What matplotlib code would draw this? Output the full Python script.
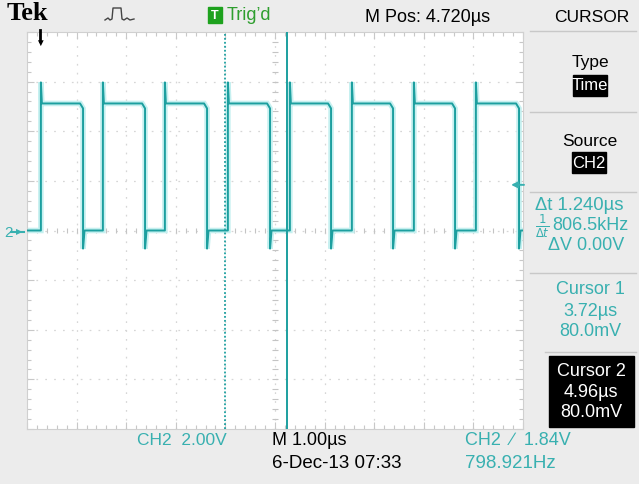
import numpy as np
import matplotlib
matplotlib.use('Agg')
import matplotlib.pyplot as plt
from matplotlib.patches import Rectangle
from matplotlib.lines import Line2D

plt.rcParams['font.family'] = ['Liberation Sans', 'DejaVu Sans']
plt.rcParams['mathtext.fontset'] = 'dejavusans'

# screen settings
m_pos_us = 4.720          # horizontal centre of the screen
time_per_div_us = 1.00
volt_per_div = 2.00
trig_level_v = 1.84

# pulse train (CH2)
rise_us = [0.00, 1.25, 2.50, 3.77, 5.02, 6.27, 7.52, 8.77]
fall_us = [0.85, 2.10, 3.35, 4.62, 5.85, 7.10, 8.35, 9.64]
low_v = 0.0
high_v = 5.12
overshoot_v = 5.97
undershoot_v = -0.73

cursor1_us = 3.72
cursor2_us = 4.96

TRACE = '#1c9f9f'
GLOW = '#c6f0f0'
CYAN_TXT = '#38b0b0'
BG = '#ececec'

W, H = 639, 485
fig = plt.figure(figsize=(W / 100, H / 100), dpi=100, facecolor=BG)


def px(x, y):
    # pixel position (from top-left) -> figure fraction
    return x / W, 1 - y / H


def txt(x, y, s, color='black', size=12.5, ha='left', **kw):
    fx, fy = px(x, y)
    fig.text(fx, fy, s, color=color, fontsize=size, ha=ha, va='center', **kw)


def sep(y, x0=530, x1=636):
    fig.add_artist(Line2D([x0 / W, x1 / W], [1 - y / H] * 2, color='#c8c8c8', lw=1))


def box(x0, y0, x1, y1, color='black'):
    fig.add_artist(Rectangle((x0 / W, 1 - y1 / H), (x1 - x0) / W, (y1 - y0) / H,
                             color=color, transform=fig.transFigure, zorder=2))


# ---- graticule ----
ax = fig.add_axes([27 / W, 55 / H, 496 / W, 397 / H])
ax.set_facecolor('white')
x0 = m_pos_us - 5 * time_per_div_us
x1 = m_pos_us + 5 * time_per_div_us
ax.set_xlim(x0, x1)
ax.set_ylim(-4 * volt_per_div, 4 * volt_per_div)

xdiv = x0 + np.arange(11) * time_per_div_us
ydiv = np.arange(-4, 5) * volt_per_div
for xv in xdiv[1:-1]:
    ax.axvline(xv, color='#d6d6d6', lw=0.9, ls=(0, (1.4, 5.7)), zorder=1)
for yv in ydiv[1:-1]:
    ax.axhline(yv, color='#d6d6d6', lw=0.9, ls=(0, (1.4, 5.7)), zorder=1)

ax.set_xticks(xdiv)
ax.set_xticks(x0 + np.arange(51) * time_per_div_us / 5, minor=True)
ax.set_yticks(ydiv)
ax.set_yticks(np.arange(-20, 21) * volt_per_div / 5, minor=True)
ax.tick_params(which='both', direction='in', top=True, right=True,
               labelbottom=False, labelleft=False, color='#c8c8c8')
ax.tick_params(which='major', length=5, width=0.8)
ax.tick_params(which='minor', length=3, width=0.8)
for s in ax.spines.values():
    s.set_color('#d0d0d0')
    s.set_linewidth(0.8)

# centre-line ticks
xc = x0 + np.arange(51) * time_per_div_us / 5
yc = np.arange(-20, 21) * volt_per_div / 5
ax.vlines(xc, -0.12, 0.12, color='#c4c4c4', lw=0.8, zorder=1)
ax.hlines(yc, m_pos_us - 0.06, m_pos_us + 0.06, color='#c4c4c4', lw=0.8, zorder=1)

# ---- trace ----
tx = [x0]
ty = [low_v]
for r, f in zip(rise_us, fall_us):
    tx += [r, r, r + 0.02, f - 0.06, f, f, f + 0.03]
    ty += [low_v, overshoot_v, high_v, high_v, high_v - 0.2, undershoot_v, low_v]
tx.append(x1)
ty.append(low_v)
ax.plot(tx, ty, color=GLOW, lw=4.0, zorder=2, solid_joinstyle='miter')
ax.plot(tx, ty, color=TRACE, lw=1.4, zorder=3)

# ---- cursors ----
ax.axvline(cursor1_us, color=TRACE, lw=1.3, ls=(0, (1, 1.2)), zorder=4)
ax.axvline(cursor2_us, color=TRACE, lw=1.4, zorder=4)

# ---- markers around the graticule ----
txt(4, 233, '2', color=CYAN_TXT, size=11)
fig.add_artist(Line2D([11 / W, 24 / W], [1 - 233 / H] * 2, color=CYAN_TXT, lw=1.5))
fig.text(*px(19, 233), '\u25b6', color=CYAN_TXT, fontsize=6, ha='center', va='center')
ax.annotate('', xy=(x1 - 0.24, trig_level_v), xytext=(x1 + 0.02, trig_level_v),
            arrowprops=dict(arrowstyle='-|>', color=CYAN_TXT, lw=1.4, mutation_scale=9,
                            shrinkA=0, shrinkB=0),
            annotation_clip=False, zorder=5)
fig.add_artist(Line2D([40 / W] * 2, [1 - 31 / H, 1 - 42 / H], color='black', lw=2))
fig.text(*px(40, 43), '\u25bc', color='black', fontsize=7, ha='center', va='center')

# ---- top bar ----
txt(7, 14, 'Tek', size=19, family='Liberation Serif', weight='bold')
fig.add_artist(Line2D([v / W for v in [105, 108, 110, 112, 113, 121, 122, 124, 127, 130, 134]],
                      [1 - v / H for v in [21, 19, 21, 20, 9, 9, 20, 21, 19, 21, 20]],
                      color='#444444', lw=1))
box(208, 8, 222, 24, color='#1ea21e')
txt(215, 16, 'T', color='white', size=9, ha='center', weight='bold')
txt(227, 16, "Trig\u2019d", color='#2e9e2e', size=13)
txt(365, 17, 'M Pos: 4.720\u00b5s', size=13)
txt(592, 18, 'CURSOR', size=12.5, ha='center')
sep(32)

# ---- side menu ----
txt(590, 62, 'Type', size=12.5, ha='center')
box(573, 76, 607, 97)
txt(590, 86, 'Time', color='white', size=12, ha='center')
sep(113)
txt(590, 142, 'Source', size=12.5, ha='center')
box(572, 153, 606, 174)
txt(589, 163, 'CH2', color='white', size=12, ha='center')
sep(193)
txt(535, 206, '\u0394t 1.240\u00b5s', color=CYAN_TXT, size=13.3)
fig.text(*px(542, 226), r'$\frac{1}{\Delta t}$', color=CYAN_TXT, fontsize=12,
         ha='center', va='center')
txt(552, 226, '806.5kHz', color=CYAN_TXT, size=13)
txt(548, 246, '\u0394V 0.00V', color=CYAN_TXT, size=13)
sep(274)
txt(590, 289, 'Cursor 1', color=CYAN_TXT, size=13, ha='center')
txt(590, 311, '3.72\u00b5s', color=CYAN_TXT, size=13, ha='center')
txt(590, 332, '80.0mV', color=CYAN_TXT, size=13, ha='center')
sep(353, x0=545)
box(549, 357, 634, 428)
txt(591, 372, 'Cursor 2', color='white', size=13, ha='center')
txt(591, 393, '4.96\u00b5s', color='white', size=13, ha='center')
txt(591, 413, '80.0mV', color='white', size=13, ha='center')

# ---- bottom readout ----
txt(137, 441, 'CH2  2.00V', color=CYAN_TXT, size=12.5)
txt(272, 441, 'M 1.00\u00b5s', size=13)
txt(272, 464, '6-Dec-13 07:33', size=13.5)
txt(465, 441, 'CH2  \u2215  1.84V', color=CYAN_TXT, size=13)
txt(465, 464, '798.921Hz', color=CYAN_TXT, size=13.5)

fig.savefig('out.png', dpi=100, facecolor=BG)
